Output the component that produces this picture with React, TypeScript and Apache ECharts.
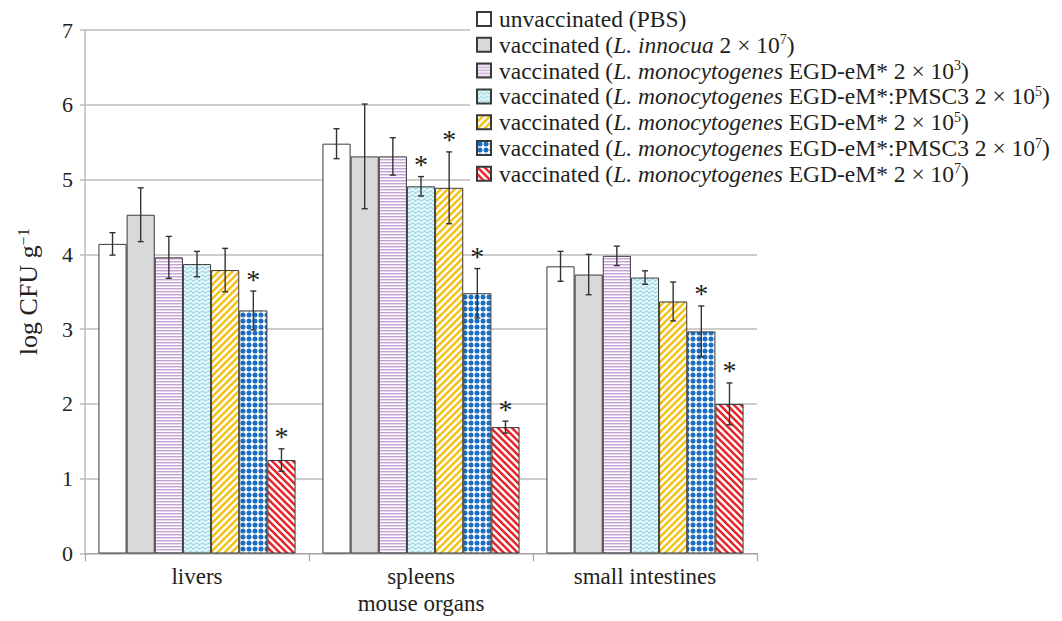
import React, { useEffect, useRef } from "react";
import * as echarts from "echarts";

// ---------- data ----------
const categories = ["livers", "spleens", "small intestines"];

const seriesNames = [
  "unvaccinated (PBS)",
  "vaccinated (L. innocua 2 × 10^7)",
  "vaccinated (L. monocytogenes EGD-eM* 2 × 10^3)",
  "vaccinated (L. monocytogenes EGD-eM*:PMSC3 2 × 10^5)",
  "vaccinated (L. monocytogenes EGD-eM* 2 × 10^5)",
  "vaccinated (L. monocytogenes EGD-eM*:PMSC3 2 × 10^7)",
  "vaccinated (L. monocytogenes EGD-eM* 2 × 10^7)",
];

const legendLabels = [
  "{n|unvaccinated (PBS)}",
  "{n|vaccinated (}{i|L. innocua}{n| 2 × 10}{s|7}{n|)}",
  "{n|vaccinated (}{i|L. monocytogenes}{n| EGD-eM* 2 × 10}{s|3}{n|)}",
  "{n|vaccinated (}{i|L. monocytogenes}{n| EGD-eM*:PMSC3 2 × 10}{s|5}{n|)}",
  "{n|vaccinated (}{i|L. monocytogenes}{n| EGD-eM* 2 × 10}{s|5}{n|)}",
  "{n|vaccinated (}{i|L. monocytogenes}{n| EGD-eM*:PMSC3 2 × 10}{s|7}{n|)}",
  "{n|vaccinated (}{i|L. monocytogenes}{n| EGD-eM* 2 × 10}{s|7}{n|)}",
];

const pbsMean = [4.14, 5.48, 3.84];
const innocuaMean = [4.53, 5.31, 3.73];
const egd3Mean = [3.96, 5.31, 3.98];
const pmsc5Mean = [3.87, 4.91, 3.69];
const egd5Mean = [3.79, 4.89, 3.37];
const pmsc7Mean = [3.25, 3.48, 2.97];
const egd7Mean = [1.25, 1.69, 2.0];

const pbsErr = [0.15, 0.2, 0.2];
const innocuaErr = [0.36, 0.7, 0.27];
const egd3Err = [0.28, 0.25, 0.13];
const pmsc5Err = [0.17, 0.13, 0.09];
const egd5Err = [0.29, 0.48, 0.26];
const pmsc7Err = [0.26, 0.33, 0.34];
const egd7Err = [0.15, 0.08, 0.28];

const pbsStar = [0, 0, 0];
const innocuaStar = [0, 0, 0];
const egd3Star = [0, 0, 0];
const pmsc5Star = [0, 1, 0];
const egd5Star = [0, 1, 0];
const pmsc7Star = [1, 1, 1];
const egd7Star = [1, 1, 1];

const yTicks = { min: 0, max: 7, interval: 1 };

const means = [pbsMean, innocuaMean, egd3Mean, pmsc5Mean, egd5Mean, pmsc7Mean, egd7Mean];
const errs = [pbsErr, innocuaErr, egd3Err, pmsc5Err, egd5Err, pmsc7Err, egd7Err];
const stars = [pbsStar, innocuaStar, egd3Star, pmsc5Star, egd5Star, pmsc7Star, egd7Star];

// ---------- styling ----------
const FONT = "Liberation Serif";
const TEXT = "#231f20";
const GRID = "#bdbdbd";
const CAT_GAP = 0.12;

function tile(w: number, h: number, draw: (c: CanvasRenderingContext2D) => void) {
  const cv = document.createElement("canvas");
  cv.width = w;
  cv.height = h;
  const c = cv.getContext("2d")!;
  c.fillStyle = "#ffffff";
  c.fillRect(0, 0, w, h);
  draw(c);
  return { image: cv, repeat: "repeat" as const };
}

function makePatterns(): any[] {
  const lilac = tile(4, 3, (c) => {
    c.fillStyle = "#c7a4d6";
    c.fillRect(0, 0, 4, 1);
    c.fillStyle = "#e6d6ee";
    c.fillRect(0, 1, 4, 1);
  });
  const cyan = tile(6, 4, (c) => {
    c.fillStyle = "#a9deea";
    c.fillRect(0, 0, 6, 4);
    c.strokeStyle = "#ffffff";
    c.lineWidth = 1.3;
    c.beginPath();
    for (let x = 0; x <= 6; x += 0.5) {
      const y = 2 + 1.0 * Math.sin((x / 6) * Math.PI * 2);
      if (x === 0) c.moveTo(x, y);
      else c.lineTo(x, y);
    }
    c.stroke();
  });
  const diag = (color: string, forward: boolean) =>
    tile(7, 7, (c) => {
      c.strokeStyle = color;
      c.lineWidth = 2.6;
      c.beginPath();
      if (forward) {
        c.moveTo(0, 7); c.lineTo(7, 0);
        c.moveTo(-1, 1); c.lineTo(1, -1);
        c.moveTo(6, 8); c.lineTo(8, 6);
      } else {
        c.moveTo(0, 0); c.lineTo(7, 7);
        c.moveTo(6, -1); c.lineTo(8, 1);
        c.moveTo(-1, 6); c.lineTo(1, 8);
      }
      c.stroke();
    });
  const blue = tile(6, 6, (c) => {
    c.fillStyle = "#1b6ec2";
    c.beginPath();
    c.arc(3, 3, 2.5, 0, Math.PI * 2);
    c.fill();
  });
  return ["#ffffff", "#d9d9d9", lilac, cyan, diag("#f5c11c", true), blue, diag("#e8262d", false)];
}

export default function App() {
  const ref = useRef<HTMLDivElement>(null);

  useEffect(() => {
    if (!ref.current) return;
    const chart = echarts.init(ref.current, null, { renderer: "svg" });
    const patterns = makePatterns();
    const n = seriesNames.length;

    const barSeries = seriesNames.map((name, s) => ({
      type: "bar",
      name,
      data: means[s],
      barGap: "0%",
      barCategoryGap: `${CAT_GAP * 100}%`,
      itemStyle: { color: patterns[s], borderColor: "#3a3a3a", borderWidth: 1 },
      z: 2,
    }));

    const errData: number[][] = [];
    means.forEach((m, s) =>
      m.forEach((v, c) => errData.push([c, v, errs[s][c], s, stars[s][c]]))
    );

    const errSeries = {
      type: "custom",
      name: "errors",
      data: errData,
      encode: { x: 0, y: 1 },
      z: 5,
      silent: true,
      renderItem: (_p: any, api: any) => {
        const cat = api.value(0);
        const val = api.value(1);
        const err = api.value(2);
        const s = api.value(3);
        const star = api.value(4);
        const center = api.coord([cat, val]);
        const band = api.size([1, 0])[0];
        const pitch = (band * (1 - CAT_GAP)) / n;
        const x = center[0] + (s - (n - 1) / 2) * pitch;
        const yTop = api.coord([cat, val + err])[1];
        const yBot = api.coord([cat, val - err])[1];
        const st = { stroke: "#333333", lineWidth: 1.4 };
        const cap = 3;
        const children: any[] = [
          { type: "line", shape: { x1: x, y1: yTop, x2: x, y2: yBot }, style: st },
          { type: "line", shape: { x1: x - cap, y1: yTop, x2: x + cap, y2: yTop }, style: st },
          { type: "line", shape: { x1: x - cap, y1: yBot, x2: x + cap, y2: yBot }, style: st },
        ];
        if (star) {
          children.push({
            type: "text",
            x,
            y: yTop - 12,
            style: {
              text: "*",
              fontSize: 28,
              fontFamily: FONT,
              fill: TEXT,
              align: "center",
              verticalAlign: "middle",
            },
          });
        }
        return { type: "group", children };
      },
    };

    const legendBase = { fontFamily: FONT, fontSize: 23.5, color: TEXT };
    const yNameBase = { fontFamily: FONT, fontSize: 26, color: TEXT };

    const option: any = {
      animation: false,
      backgroundColor: "#ffffff",
      textStyle: { fontFamily: FONT, color: TEXT },
      grid: {
        left: 85,
        right: 305,
        top: 30,
        bottom: 67.5,
        containLabel: false,
        outerBoundsMode: "none",
      },
      legend: {
        data: seriesNames,
        orient: "vertical",
        left: 470,
        top: 3,
        padding: [4, 8, 5, 6],
        itemWidth: 14,
        itemHeight: 14,
        itemGap: 1.8,
        icon: "rect",
        backgroundColor: "#ffffff",
        selectedMode: false,
        formatter: (name: string) => legendLabels[seriesNames.indexOf(name)],
        textStyle: {
          ...legendBase,
          padding: [0, 0, 0, 3],
          rich: {
            n: { ...legendBase },
            i: { ...legendBase, fontStyle: "italic" },
            s: { fontFamily: FONT, fontSize: 14, color: TEXT, verticalAlign: "top" },
          },
        },
      },
      xAxis: {
        type: "category",
        data: categories,
        name: "mouse organs",
        nameLocation: "middle",
        nameGap: 37,
        nameTextStyle: { fontFamily: FONT, fontSize: 23, color: TEXT },
        axisLine: { lineStyle: { color: "#a6a6a6", width: 1.2 } },
        axisTick: { show: true, length: 8, lineStyle: { color: "#a6a6a6", width: 1.2 } },
        axisLabel: { fontFamily: FONT, fontSize: 23, color: TEXT, margin: 11 },
      },
      yAxis: {
        type: "value",
        min: yTicks.min,
        max: yTicks.max,
        interval: yTicks.interval,
        name: "{n|log CFU g}{s|−1}",
        nameLocation: "middle",
        nameGap: 44,
        nameTextStyle: {
          ...yNameBase,
          rich: {
            n: { ...yNameBase },
            s: { fontFamily: FONT, fontSize: 16, color: TEXT, verticalAlign: "top" },
          },
        },
        axisLine: { show: true, lineStyle: { color: GRID, width: 1.5 } },
        axisTick: { show: true, length: 5, lineStyle: { color: GRID, width: 1.5 } },
        splitLine: { lineStyle: { color: GRID, width: 1.5 } },
        axisLabel: { fontFamily: FONT, fontSize: 22, color: TEXT, margin: 12 },
      },
      series: [...barSeries, errSeries],
    };

    chart.setOption(option);
    return () => chart.dispose();
  }, []);

  return (
    <div
      ref={ref}
      style={{ position: "fixed", left: 0, top: 0, width: 1062, height: 621, background: "#fff" }}
    />
  );
}
